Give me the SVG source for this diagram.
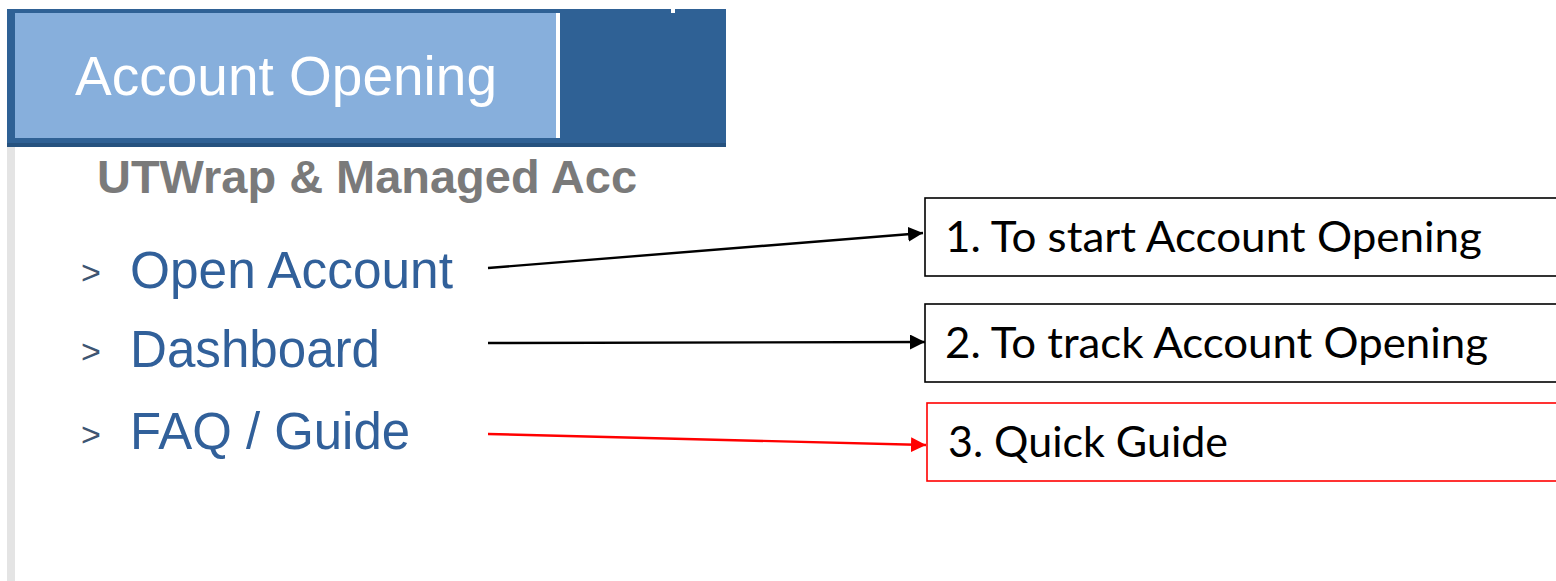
<svg xmlns="http://www.w3.org/2000/svg" width="1556" height="581" viewBox="0 0 1556 581">
  <style>
    .menu { font-family: "Liberation Sans", Arial, sans-serif; fill: #31609a; font-size: 51px; }
    .chev { font-family: "Liberation Sans", Arial, sans-serif; fill: #3e5572; font-size: 34px; }
    .note { font-family: Lato, "Open Sans", sans-serif; fill: #000; font-size: 42px; }
    .box { fill: #fff; stroke: #000; stroke-width: 1.6; }
    .box-red { fill: #fff; stroke: #ff0000; stroke-width: 1.6; }
    .link { fill: none; stroke: #000; stroke-width: 2.4; }
    .link-red { fill: none; stroke: #ff0000; stroke-width: 2.4; }
  </style>
  <defs>
    <marker id="head" viewBox="0 0 15 15" refX="15" refY="7.5" markerWidth="15" markerHeight="15" markerUnits="userSpaceOnUse" orient="auto">
      <path d="M0,0 L15,7.5 L0,15 Z" fill="#000"/>
    </marker>
    <marker id="head-red" viewBox="0 0 15 15" refX="15" refY="7.5" markerWidth="15" markerHeight="15" markerUnits="userSpaceOnUse" orient="auto">
      <path d="M0,0 L15,7.5 L0,15 Z" fill="#ff0000"/>
    </marker>
  </defs>

  <rect width="1556" height="581" fill="#fff"/>

  <!-- side menu panel -->
  <g id="menu-panel">
    <rect x="7" y="147" width="8" height="434" fill="#e4e4e4"/>
    <rect x="7" y="9" width="719" height="138" fill="#2f6195"/>
    <rect x="7" y="143" width="719" height="4" fill="#26527f"/>
    <rect x="671" y="9" width="4" height="4" fill="#fff"/>
    <rect x="15" y="13" width="541" height="125" fill="#87afdc"/>
    <rect x="556" y="13" width="4" height="125" fill="#fff"/>
    <text x="75" y="95" font-family="Liberation Sans, Arial, sans-serif" font-size="55" fill="#fff" textLength="422" lengthAdjust="spacingAndGlyphs">Account Opening</text>
    <text x="97" y="193" font-family="Liberation Sans, Arial, sans-serif" font-size="47" font-weight="bold" fill="#7a7a7a" textLength="540" lengthAdjust="spacingAndGlyphs">UTWrap &amp; Managed Acc</text>
  </g>

  <g id="item-open-account">
    <text class="chev" x="81" y="284">&gt;</text>
    <text class="menu" x="130" y="288" textLength="323" lengthAdjust="spacingAndGlyphs">Open Account</text>
  </g>
  <g id="item-dashboard">
    <text class="chev" x="81" y="363">&gt;</text>
    <text class="menu" x="130" y="367" textLength="250" lengthAdjust="spacingAndGlyphs">Dashboard</text>
  </g>
  <g id="item-faq">
    <text class="chev" x="81" y="446">&gt;</text>
    <text class="menu" x="130" y="449" textLength="280" lengthAdjust="spacingAndGlyphs">FAQ / Guide</text>
  </g>

  <!-- callout boxes -->
  <g id="note-start">
    <rect class="box" x="925" y="198" width="640" height="78"/>
    <text class="note" x="945" y="252" textLength="537" lengthAdjust="spacingAndGlyphs">1. To start Account Opening</text>
  </g>
  <g id="note-track">
    <rect class="box" x="925" y="304" width="640" height="78"/>
    <text class="note" x="945" y="358" textLength="543" lengthAdjust="spacingAndGlyphs">2. To track Account Opening</text>
  </g>
  <g id="note-guide">
    <rect class="box-red" x="927" y="403" width="640" height="78"/>
    <text class="note" x="948" y="457" textLength="280" lengthAdjust="spacingAndGlyphs">3. Quick Guide</text>
  </g>

  <!-- connectors -->
  <g id="connectors">
    <line class="link" x1="488" y1="268" x2="923" y2="233" marker-end="url(#head)"/>
    <line class="link" x1="488" y1="343" x2="925" y2="342" marker-end="url(#head)"/>
    <line class="link-red" x1="488" y1="434" x2="926" y2="445" marker-end="url(#head-red)"/>
  </g>
</svg>
